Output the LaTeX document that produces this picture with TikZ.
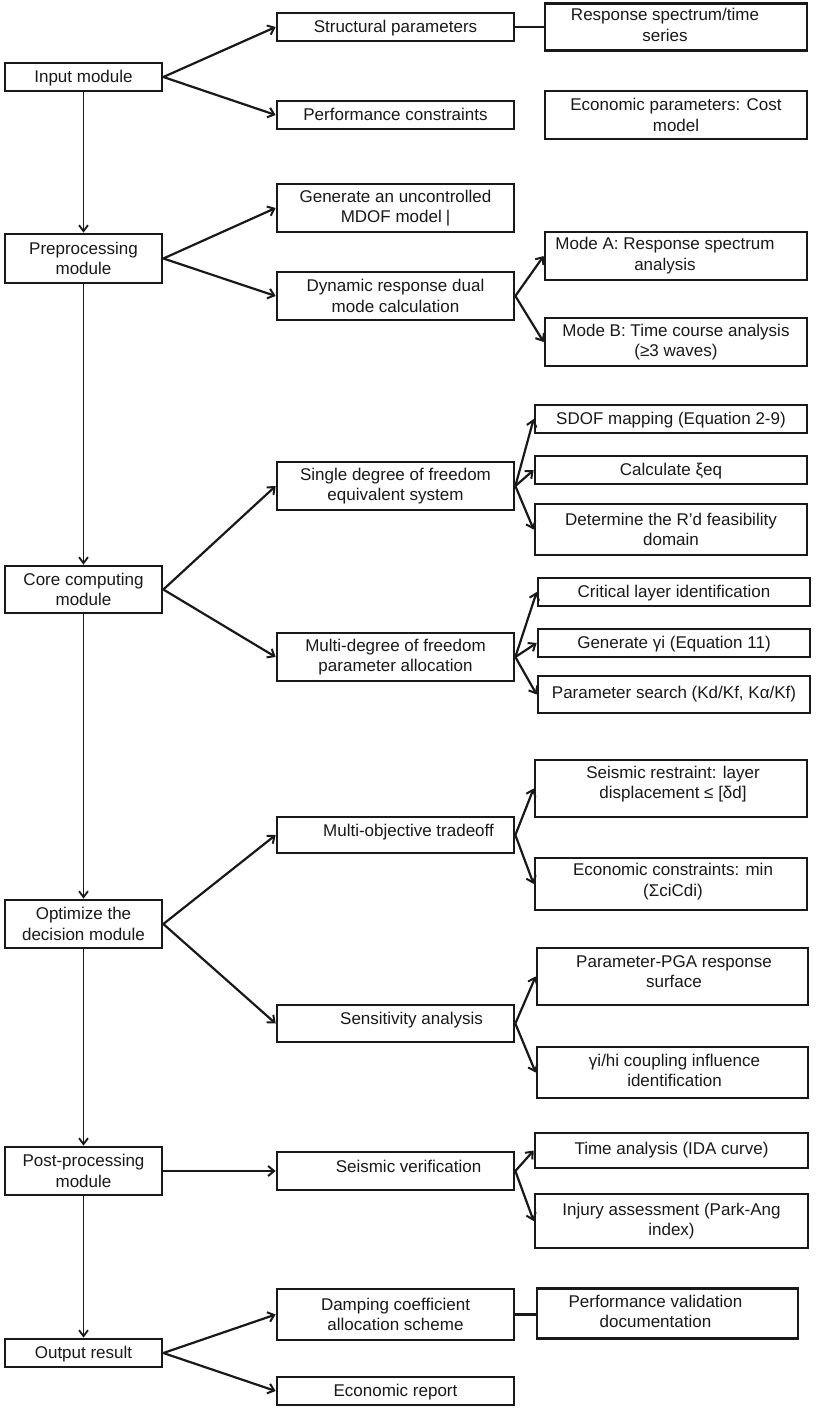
\documentclass[tikz,border=0pt]{standalone}
\usepackage{fontspec}
\setmainfont{Liberation Sans}
\usetikzlibrary{arrows.meta}
\definecolor{ink}{RGB}{25,25,25}
\newcommand\tx[3]{\raisebox{#2}[\height][\depth]{\hspace*{#1}\begin{tabular}{@{}c@{}}#3\end{tabular}}}
\begin{document}
\begin{tikzpicture}[x=1pt,y=-1pt,
  box/.style={draw=ink,line width=2.7pt,rectangle,inner sep=0pt,align=center,text=ink,
    font=\fontsize{17}{20.5}\selectfont},
  conn/.style={draw=ink,line width=2.2pt,-{Straight Barb[length=6pt,width=10pt,line width=2pt]}},
  vconn/.style={draw=ink,line width=1.8pt,-{Straight Barb[length=6pt,width=9pt,line width=1.8pt]}},
  plain/.style={draw=ink,line width=2.4pt}]
\fill[white] (0,0) rectangle (816,1409);
\useasboundingbox (0,0) rectangle (816,1409);
% left column
\node[box,minimum width=157,minimum height=28] (inp) at (83.5,77) {\tx{0pt}{-1pt}{Input module}};
\node[box,minimum width=157,minimum height=49] (pre) at (83.5,258.5) {Preprocessing\\module};
\node[box,minimum width=157,minimum height=47] (core) at (83.5,589.5) {Core computing\\module};
\node[box,minimum width=157,minimum height=48] (opt) at (83.5,924) {Optimize the\\decision module};
\node[box,minimum width=157,minimum height=48] (post) at (83.5,1171) {Post-processing\\module};
\node[box,minimum width=157,minimum height=28] (out) at (83.5,1353) {\tx{0pt}{-1pt}{Output result}};
% middle column
\node[box,minimum width=237,minimum height=28] (str) at (395.5,27) {\tx{0pt}{-1pt}{Structural parameters}};
\node[box,minimum width=237,minimum height=28] (perf) at (395.5,115) {\tx{0pt}{-1pt}{Performance constraints}};
\node[box,minimum width=237,minimum height=48] (gen) at (395.5,208) {Generate an uncontrolled\\MDOF model\kern4pt|};
\node[box,minimum width=237,minimum height=48] (dyn) at (395.5,296) {Dynamic response dual\\mode calculation};
\node[box,minimum width=237,minimum height=48] (sdof) at (395.5,486) {Single degree of freedom\\equivalent system};
\node[box,minimum width=237,minimum height=48] (mdof) at (395.5,657) {Multi-degree of freedom\\parameter allocation};
\node[box,minimum width=237,minimum height=36] (mot) at (395.5,835) {\tx{26pt}{3pt}{Multi-objective tradeoff}};
\node[box,minimum width=237,minimum height=37] (sens) at (395.5,1023.5) {\tx{32pt}{3pt}{Sensitivity analysis}};
\node[box,minimum width=237,minimum height=38] (sver) at (395.5,1171) {\tx{26pt}{3pt}{Seismic verification}};
\node[box,minimum width=237,minimum height=51] (damp) at (395.5,1314.5) {Damping coefficient\\allocation scheme};
\node[box,minimum width=237,minimum height=28] (erep) at (395.5,1391) {\tx{0pt}{-1pt}{Economic report}};
% right column
\node[box,minimum width=262,minimum height=47] (rsp) at (676,27) {\tx{-22pt}{0pt}{Response spectrum/time\\series}};
\node[box,minimum width=262,minimum height=48] (eco) at (676,115) {Economic parameters: Cost\\model};
\node[box,minimum width=262,minimum height=48] (moda) at (676,256) {\tx{-22pt}{0pt}{Mode A: Response spectrum\\analysis}};
\node[box,minimum width=262,minimum height=48] (modb) at (676,342) {Mode B: Time course analysis\\(≥3 waves)};
\node[box,minimum width=272,minimum height=28] (map) at (671,419) {\tx{0pt}{-1pt}{SDOF mapping (Equation 2-9)}};
\node[box,minimum width=272,minimum height=28] (calc) at (671,470) {\tx{0pt}{-1pt}{Calculate ξeq}};
\node[box,minimum width=272,minimum height=51] (det) at (671,529.5) {Determine the R'd feasibility\\domain};
\node[box,minimum width=272,minimum height=28] (crit) at (674,592) {\tx{0pt}{-1pt}{Critical layer identification}};
\node[box,minimum width=272,minimum height=28] (gam) at (674,643) {\tx{0pt}{-1pt}{Generate γi (Equation 11)}};
\node[box,minimum width=272,minimum height=37] (psr) at (674,694.5) {Parameter search (Kd/Kf, Kα/Kf)};
\node[box,minimum width=272,minimum height=57] (seis) at (671,788.5) {\tx{4pt}{4pt}{Seismic restraint: layer\\displacement ≤ [δd]}};
\node[box,minimum width=272,minimum height=52] (econ) at (671,884) {\tx{4pt}{2pt}{Economic constraints: min\\(ΣciCdi)}};
\node[box,minimum width=271,minimum height=57] (pga) at (672.5,976.5) {\tx{3pt}{3pt}{Parameter-PGA response\\surface}};
\node[box,minimum width=271,minimum height=51] (coup) at (672.5,1072.5) {\tx{4pt}{0pt}{γi/hi coupling influence\\identification}};
\node[box,minimum width=273,minimum height=35] (time) at (671.5,1150.5) {Time analysis (IDA curve)};
\node[box,minimum width=273,minimum height=54] (inj) at (671.5,1221) {Injury assessment (Park-Ang\\index)};
\node[box,minimum width=261,minimum height=50] (perfv) at (667.5,1313.5) {\tx{-24pt}{0pt}{Performance validation\\documentation}};
% vertical flow
\draw[vconn] (inp.south) -- (pre.north);
\draw[vconn] (pre.south) -- (core.north);
\draw[vconn] (core.south) -- (opt.north);
\draw[vconn] (opt.south) -- (post.north);
\draw[vconn] (post.south) -- (out.north);
% branches
\draw[conn] (inp.east) -- (str.west);
\draw[conn] (inp.east) -- (perf.west);
\draw[plain] (str.east) -- (str.east -| rsp.west);
\draw[conn] (pre.east) -- (gen.west);
\draw[conn] (pre.east) -- (dyn.west);
\draw[conn] (dyn.east) -- (moda.west);
\draw[conn] (dyn.east) -- (modb.west);
\draw[conn] (core.east) -- (sdof.west);
\draw[conn] (core.east) -- (mdof.west);
\draw[conn] (sdof.east) -- (map.west);
\draw[conn] (sdof.east) -- (calc.west);
\draw[conn] (sdof.east) -- (det.west);
\draw[conn] (mdof.east) -- (crit.west);
\draw[conn] (mdof.east) -- (gam.west);
\draw[conn] (mdof.east) -- (psr.west);
\draw[conn] (opt.east) -- (mot.west);
\draw[conn] (opt.east) -- (sens.west);
\draw[conn] (mot.east) -- (seis.west);
\draw[conn] (mot.east) -- (econ.west);
\draw[conn] (sens.east) -- (pga.west);
\draw[conn] (sens.east) -- (coup.west);
\draw[conn] (post.east) -- (sver.west);
\draw[conn] (sver.east) -- (time.west);
\draw[conn] (sver.east) -- (inj.west);
\draw[conn] (out.east) -- (damp.west);
\draw[conn] (out.east) -- (erep.west);
\draw[plain] (damp.east) -- (damp.east -| perfv.west);
\end{tikzpicture}
\end{document}
